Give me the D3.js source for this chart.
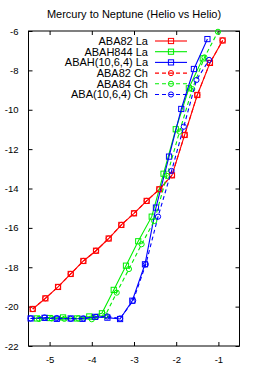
<!DOCTYPE html>
<html>
<head>
<meta charset="utf-8">
<script src="https://cdn.jsdelivr.net/npm/d3@7"></script>
<style>
  body { margin: 0; background: #fff; }
  text { font-family: "Liberation Sans", Arial, sans-serif; fill: #000; }
</style>
</head>
<body>
<script>
const TITLE = "Mercury to Neptune (Helio vs Helio)";
const X_TICKS = [-5, -4, -3, -2, -1];
const Y_TICKS = [-22, -20, -18, -16, -14, -12, -10, -8, -6];

// ABA82 La / Ch (the two overlap)
const redX = [-5.4, -5.1, -4.8, -4.5, -4.2, -3.9, -3.6, -3.3, -3.0, -2.7, -2.4, -2.1, -1.8, -1.5, -1.2, -0.9];
const redY = [-20.12, -19.58, -19.0, -18.34, -17.68, -17.16, -16.54, -15.85, -15.26, -14.63, -14.04, -13.33, -11.28, -9.25, -7.62, -6.48];
// ABAH844 La
const greenLaX = [-5.3, -5.0, -4.68, -4.35, -4.06, -3.76, -3.48, -3.19, -2.9, -2.58, -2.3, -2.01, -1.7, -1.37];
const greenLaY = [-20.6, -20.58, -20.55, -20.6, -20.5, -20.34, -19.15, -17.92, -16.68, -15.43, -13.25, -10.99, -8.91, -7.39];
// ABA84 Ch
const greenChX = [-5.25, -4.95, -4.65, -4.32, -4.0, -3.68, -3.41, -3.12, -2.82, -2.52, -2.22, -1.92, -1.62, -1.33, -1.01];
const greenChY = [-20.62, -20.6, -20.62, -20.6, -20.64, -20.45, -19.29, -18.09, -16.83, -15.65, -13.36, -11.11, -8.95, -7.34, -6.04];
// ABAH(10,6,4) La
const blueLaX = [-5.45, -5.12, -4.83, -4.5, -4.22, -3.92, -3.63, -3.33, -3.04, -2.74, -2.48, -2.17, -1.88, -1.58, -1.26];
const blueLaY = [-20.6, -20.57, -20.62, -20.6, -20.62, -20.52, -20.56, -20.63, -19.7, -17.85, -14.97, -12.38, -9.96, -7.93, -6.41];
// ABA(10,6,4) Ch
const blueChX = [-5.45, -5.12, -4.83, -4.5, -4.2, -3.9, -3.63, -3.33, -3.02, -2.72, -2.43, -2.11, -1.82, -1.52, -1.22];
const blueChY = [-20.6, -20.55, -20.58, -20.62, -20.6, -20.52, -20.5, -20.6, -19.7, -17.85, -15.43, -13.11, -10.86, -8.49, -7.47];

const SERIES = [
  { name: "ABA82 La", x: redX, y: redY, color: "#ff0000", dash: null, mark: "square" },
  { name: "ABAH844 La", x: greenLaX, y: greenLaY, color: "#00ee00", dash: null, mark: "square" },
  { name: "ABAH(10,6,4) La", x: blueLaX, y: blueLaY, color: "#0000ff", dash: null, mark: "square" },
  { name: "ABA82 Ch", x: redX, y: redY, color: "#ff0000", dash: "4,3", mark: "circle" },
  { name: "ABA84 Ch", x: greenChX, y: greenChY, color: "#00ee00", dash: "4,3", mark: "circle" },
  { name: "ABA(10,6,4) Ch", x: blueChX, y: blueChY, color: "#0000ff", dash: "4,3", mark: "circle" }
];

const width = 266, height = 369;
const margin = { top: 31, right: 26.5, bottom: 23, left: 28.5 };

const svg = d3.select("body").append("svg")
  .attr("width", width).attr("height", height);

const x = d3.scaleLinear().domain([-5.5, -0.5]).range([margin.left, width - margin.right]);
const y = d3.scaleLinear().domain([-22, -6]).range([height - margin.bottom, margin.top]);

svg.append("text")
  .attr("x", 134).attr("y", 18)
  .attr("text-anchor", "middle")
  .style("font-size", "11px")
  .text(TITLE);

// axes, gnuplot style: inward ticks mirrored on all sides
const fmt = d => String(d);
const axes = [
  [d3.axisLeft(y).tickValues(Y_TICKS).tickFormat(fmt), `translate(${x.range()[0]},0)`, true],
  [d3.axisRight(y).tickValues(Y_TICKS).tickFormat(""), `translate(${x.range()[1]},0)`, false],
  [d3.axisBottom(x).tickValues(X_TICKS).tickFormat(fmt), `translate(0,${y.range()[0]})`, true],
  [d3.axisTop(x).tickValues(X_TICKS).tickFormat(""), `translate(0,${y.range()[1]})`, false]
];
axes.forEach(([ax, tr]) => {
  const g = svg.append("g").attr("transform", tr)
    .call(ax.tickSizeInner(-4).tickSizeOuter(0).tickPadding(10));
  g.select(".domain").remove();
  g.selectAll("line").attr("stroke", "#000");
  g.selectAll("text").style("font-size", "9.5px").attr("font-family", null);
});

svg.append("rect")
  .attr("x", x.range()[0]).attr("y", y.range()[1])
  .attr("width", x.range()[1] - x.range()[0])
  .attr("height", y.range()[0] - y.range()[1])
  .attr("fill", "none").attr("stroke", "#000");

const line = d3.line().x(d => x(d[0])).y(d => y(d[1]));

const drawMark = (g, type, cx, cy, color) => {
  if (type === "square") {
    g.append("rect").attr("x", cx - 2.6).attr("y", cy - 2.6)
      .attr("width", 5.2).attr("height", 5.2)
      .attr("fill", "none").attr("stroke", color).attr("stroke-width", 1);
  } else {
    g.append("circle").attr("cx", cx).attr("cy", cy).attr("r", 2.6)
      .attr("fill", "none").attr("stroke", color).attr("stroke-width", 1);
  }
};

const plot = svg.append("g");
SERIES.forEach(s => {
  const pts = s.x.map((v, i) => [v, s.y[i]]);
  const g = plot.append("g");
  g.append("path").attr("d", line(pts))
    .attr("fill", "none").attr("stroke", s.color).attr("stroke-width", 1.1)
    .attr("stroke-dasharray", s.dash);
  pts.forEach(p => drawMark(g, s.mark, x(p[0]), y(p[1]), s.color));
});

// legend
const legend = svg.append("g");
SERIES.forEach((s, i) => {
  const ly = 41 + i * 10.7;
  legend.append("text")
    .attr("x", 148).attr("y", ly).attr("dy", "0.35em")
    .attr("text-anchor", "end").style("font-size", "11px")
    .text(s.name);
  legend.append("line")
    .attr("x1", 155).attr("x2", 187).attr("y1", ly).attr("y2", ly)
    .attr("stroke", s.color).attr("stroke-width", 1.1)
    .attr("stroke-dasharray", s.dash);
  drawMark(legend, s.mark, 171, ly, s.color);
});
</script>
</body>
</html>
